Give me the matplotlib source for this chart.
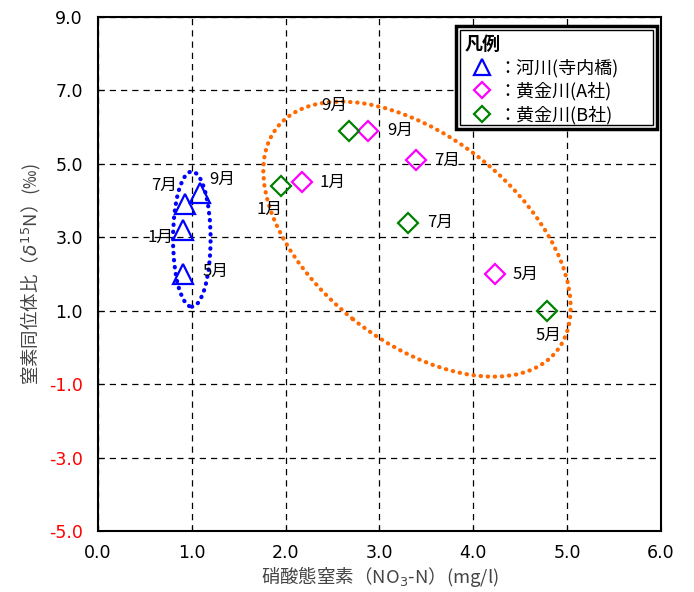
import matplotlib
matplotlib.use("Agg")
import matplotlib.pyplot as plt
from matplotlib.patches import Ellipse, Rectangle
from matplotlib.transforms import ScaledTranslation

plt.rcParams['font.family'] = ['Noto Sans CJK JP', 'DejaVu Sans']
plt.rcParams['mathtext.fontset'] = 'dejavusans'

# 硝酸態窒素 (mg/l) と δ15N (‰)
river_month = ['9月', '7月', '1月', '5月']
river_no3 = [1.09, 0.93, 0.91, 0.91]
river_d15n = [4.2, 3.9, 3.2, 2.0]

a_month = ['9月', '7月', '1月', '5月']
a_no3 = [2.88, 3.39, 2.17, 4.23]
a_d15n = [5.9, 5.1, 4.5, 2.0]

b_month = ['9月', '1月', '7月', '5月']
b_no3 = [2.68, 1.95, 3.30, 4.79]
b_d15n = [5.9, 4.4, 3.4, 1.0]

x_ticks = [0, 1, 2, 3, 4, 5, 6]
y_ticks = [-5, -3, -1, 1, 3, 5, 7, 9]

# ラベル位置 (pixel offset)
river_off = [(22, 14), (-21, 19), (-23, -7), (32, 3)]
a_off = [(32, 0), (31, 0), (31, 0), (31, 0)]
b_off = [(-15, 25), (-11, -24), (32, 0), (1, -25)]

fig = plt.figure(figsize=(6.94, 5.92), dpi=100)
ax = fig.add_axes([0.1412, 0.1030, 0.8112, 0.8683])

ax.set_xlim(0, 6)
ax.set_ylim(-5, 9)
ax.set_xticks(x_ticks)
ax.set_yticks(y_ticks)
ax.set_xticklabels([f'{v:.1f}' for v in x_ticks])
ax.set_yticklabels([f'{v:.1f}' for v in y_ticks])
for lab, v in zip(ax.get_yticklabels(), y_ticks):
    lab.set_color('red' if v < 0 else 'black')
ax.tick_params(direction='in', length=4, labelsize=12.5)
ax.tick_params(axis='y', pad=11)
ax.tick_params(axis='x', pad=9)
for lab in ax.get_xticklabels() + ax.get_yticklabels():
    lab.set_family('DejaVu Sans')
ax.grid(True, color='black', linestyle=(0, (5, 4)), linewidth=0.9)
ax.set_axisbelow(True)
for sp in ax.spines.values():
    sp.set_linewidth(1.5)

ax.plot(river_no3, river_d15n, linestyle='none', marker='^', ms=15,
        mfc='none', mec='#0000FF', mew=1.6, label='：河川(寺内橋)')
ax.plot(a_no3, a_d15n, linestyle='none', marker='D', ms=10.5,
        mfc='none', mec='#FF00FF', mew=1.6, label='：黄金川(A社)')
ax.plot(b_no3, b_d15n, linestyle='none', marker='D', ms=10.5,
        mfc='none', mec='#008000', mew=1.6, label='：黄金川(B社)')

for xs, ys, ms, offs in [(river_no3, river_d15n, river_month, river_off),
                         (a_no3, a_d15n, a_month, a_off),
                         (b_no3, b_d15n, b_month, b_off)]:
    for x, y, m, (dx, dy) in zip(xs, ys, ms, offs):
        ax.annotate(m, (x, y), xytext=(dx, dy), textcoords='offset pixels',
                    ha='center', va='center', fontsize=12, color='black')

# 囲み (点線)
ax.add_patch(Ellipse((1.0, 2.95), 0.40, 3.68, fill=False, edgecolor='#0000FF',
                     linewidth=3, linestyle=(0, (0.1, 1.6)), capstyle='round'))
orange = Ellipse((0, 0), 3.58, 2.05, angle=-38.7, fill=False,
                 edgecolor='#FF6A00', linewidth=3, linestyle=(0, (0.1, 1.6)),
                 capstyle='round',
                 transform=fig.dpi_scale_trans + ScaledTranslation(3.4, 2.95, ax.transData))
ax.add_patch(orange)

ax.set_xlabel('硝酸態窒素（NO$_3$-N）(mg/l)', fontsize=13.3, color='#444444', labelpad=2)
ax.set_ylabel('窒素同位体比（$\\delta^{15}$N）(‰)', fontsize=13.3, color='#444444', labelpad=4)

# 凡例 (二重枠)
ax.add_patch(Rectangle((0.636, 0.782), 0.357, 0.2005, transform=ax.transAxes,
                       facecolor='white', edgecolor='black', linewidth=2.5,
                       zorder=4.8, clip_on=False))
ax.add_patch(Rectangle((0.643, 0.790), 0.343, 0.1847, transform=ax.transAxes,
                       fill=False, edgecolor='black', linewidth=1.0, zorder=4.9))
leg = ax.legend(loc='upper left', bbox_to_anchor=(0.643, 0.9747), title='凡例',
                fontsize=13, handlelength=1.9, handletextpad=0.0, labelspacing=0.28,
                borderpad=0.25, borderaxespad=0, markerscale=0.8, frameon=False)
leg._legend_box.align = 'left'
leg.get_title().set_fontweight('bold')
leg.get_title().set_fontsize(13)

fig.savefig('out.png', dpi=100)
